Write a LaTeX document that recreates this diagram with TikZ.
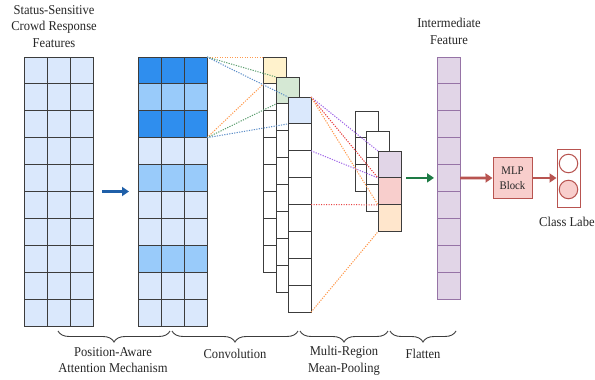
\documentclass[tikz,border=0pt]{standalone}
\usepackage{fontspec}
\setmainfont{Liberation Serif}[FakeStretch=0.93]
\usetikzlibrary{arrows.meta,decorations.pathreplacing,calc}

\definecolor{cellLight}{HTML}{DAE8FC}
\definecolor{cellMid}{HTML}{99CBFA}
\definecolor{cellDark}{HTML}{2F8EEE}
\definecolor{gridLine}{HTML}{3C3C3C}
\definecolor{convA}{HTML}{FFF2CC}
\definecolor{convB}{HTML}{D5E8D4}
\definecolor{convC}{HTML}{DAE8FC}
\definecolor{poolA}{HTML}{E1D5E7}
\definecolor{poolB}{HTML}{F8CECC}
\definecolor{poolC}{HTML}{FFE6CC}
\definecolor{flatFill}{HTML}{E1D5E7}
\definecolor{flatLine}{HTML}{9673A6}
\definecolor{mlpLine}{HTML}{B85450}
\definecolor{mlpFill}{HTML}{F8CECC}
\definecolor{arrBlue}{HTML}{1F5FA8}
\definecolor{arrGreen}{HTML}{1E7B45}
\definecolor{dotOrange}{HTML}{FF9A4D}
\definecolor{dotGreen}{HTML}{5A9E6E}
\definecolor{dotBlue}{HTML}{5A8CC8}
\definecolor{dotPurple}{HTML}{A066E8}
\definecolor{dotRed}{HTML}{E84040}
\definecolor{txt}{HTML}{262626}

\begin{document}
\begin{tikzpicture}[x=1pt,y=-1pt,
  cell/.style={rectangle, anchor=north west, inner sep=0pt, outer sep=0pt,
    minimum width=23pt, minimum height=26.9pt, draw=gridLine, line width=0.9pt},
  flatcell/.style={cell, draw=flatLine, fill=flatFill},
  rf/.style={line width=1pt, dash pattern=on 1.2pt off 1.3pt},
  bigarrow/.style={line width=2.6pt, -{Triangle[length=7pt,width=9pt]}},
  caption/.style={text=txt, inner sep=0pt, align=center,
    font=\fontsize{13.5}{16.5}\selectfont},
  stagebrace/.style={draw=gridLine, line width=0.9pt,
    decorate, decoration={brace, mirror, amplitude=11pt}},
]
\fill[white] (0,0) rectangle (595,380);
\useasboundingbox (0,0) rectangle (595,380);

% input feature grid
\foreach \r in {1,...,10}
  \foreach \c in {1,2,3}
    \node[cell, fill=cellLight] (a-\r-\c) at ({24+(\c-1)*23},{57+(\r-1)*26.9}) {};

% attention-weighted grid
\foreach \r/\fc in {1/cellDark,2/cellMid,3/cellDark,4/cellLight,5/cellMid,
                    6/cellLight,7/cellLight,8/cellMid,9/cellLight,10/cellLight}
  \foreach \c in {1,2,3}
    \node[cell, fill=\fc] (b-\r-\c) at ({138+(\c-1)*23},{57+(\r-1)*26.9}) {};

% convolution feature maps
\foreach \j/\x/\y/\top in {1/263.5/57/convA, 2/276/77/convB, 3/288/97/convC} {
  \node[cell, fill=\top] (c\j-1) at (\x,\y) {};
  \foreach \k in {2,...,8}
    \node[cell, fill=white] (c\j-\k) at (\x,{\y+(\k-1)*26.9}) {};
}

% pooled feature maps
\foreach \j/\x/\y in {1/355/111, 2/366.5/131}
  \foreach \k in {1,2,3}
    \node[cell, fill=white] (q\j-\k) at (\x,{\y+(\k-1)*26.9}) {};
\foreach \k/\fc in {1/poolA, 2/poolB, 3/poolC}
  \node[cell, fill=\fc] (p3-\k) at (378,{151+(\k-1)*26.9}) {};

% flattened intermediate feature
\foreach \k in {1,...,9}
  \node[flatcell] (f-\k) at (437,{57+(\k-1)*26.9}) {};

% MLP block and class output
\node[rectangle, draw=mlpLine, fill=mlpFill, line width=1pt,
  minimum width=39pt, minimum height=41pt, inner sep=0pt, align=center,
  text=txt, font=\fontsize{11.6}{15}\selectfont] (mlp) at (512.5,178) {MLP\\Block};
\node[rectangle, draw=mlpLine, fill=white, line width=1pt,
  minimum width=23pt, minimum height=58pt, inner sep=0pt] (cls) at (568.5,178) {};
\node[circle, draw=mlpLine, fill=white, line width=1pt,
  minimum size=18.5pt, inner sep=0pt] (o1) at (568.5,163.5) {};
\node[circle, draw=mlpLine, fill=mlpFill, line width=1pt,
  minimum size=18.5pt, inner sep=0pt] (o2) at (568.5,189.5) {};

% receptive fields of the convolution kernels
\draw[rf, dotOrange] (b-1-3.north east) -- (c1-1.north west);
\draw[rf, dotOrange] (b-3-3.south east) -- (c1-1.south west);
\draw[rf, dotGreen]  (b-1-3.north east) -- (c2-1.north west);
\draw[rf, dotGreen]  (b-3-3.south east) -- (c2-1.south west);
\draw[rf, dotBlue]   (b-1-3.north east) -- (c3-1.north west);
\draw[rf, dotBlue]   (b-3-3.south east) -- (c3-1.south west);

% pooling regions
\draw[rf, dotPurple] (c3-1.north east) -- (p3-1.north west);
\draw[rf, dotPurple] (c3-2.south east) -- (p3-1.south west);
\draw[rf, dotRed]    (c3-1.north east) -- (p3-2.north west);
\draw[rf, dotRed]    (c3-4.south east) -- (p3-2.south west);
\draw[rf, dotOrange] (c3-1.north east) -- (p3-3.north west);
\draw[rf, dotOrange] (c3-8.south east) -- (p3-3.south west);

% flow arrows
\draw[bigarrow, arrBlue] ([xshift=9pt]a-5-3.south east) -- ([xshift=-9pt]b-5-1.south west);
\draw[bigarrow, arrGreen] ([xshift=5pt]p3-1.south east) -- ([xshift=-3pt]p3-1.south east -| f-5.west);
\draw[bigarrow, mlpLine] (f-5.east) -- (mlp.west);
\draw[bigarrow, mlpLine] (mlp.east) -- (cls.west);

% titles
\node[caption, anchor=north] (tin) at (54,5) {Status-Sensitive\\Crowd Response\\Features};
\node[caption, anchor=north] (tmid) at (449,18) {Intermediate\\Feature};
\node[caption, anchor=west] (tcls) at (539,222) {Class Labe};

% stage braces
\coordinate (s0) at (58,331);
\coordinate (s1) at (170,331);
\coordinate (s1b) at (172,331);
\coordinate (s2) at (298,331);
\coordinate (s2b) at (300,331);
\coordinate (s3) at (388,331);
\coordinate (s3b) at (390,331);
\coordinate (s4) at (456,331);
\draw[stagebrace] (s0) -- (s1);
\draw[stagebrace] (s1b) -- (s2);
\draw[stagebrace] (s2b) -- (s3);
\draw[stagebrace] (s3b) -- (s4);

\node[caption, anchor=north] (l1) at (113,347) {Position-Aware\\Attention Mechanism};
\node[caption, anchor=north] (l2) at (235,349) {Convolution};
\node[caption, anchor=north] (l3) at (344,346) {Multi-Region\\Mean-Pooling};
\node[caption, anchor=north] (l4) at (423,349) {Flatten};
\end{tikzpicture}
\end{document}
